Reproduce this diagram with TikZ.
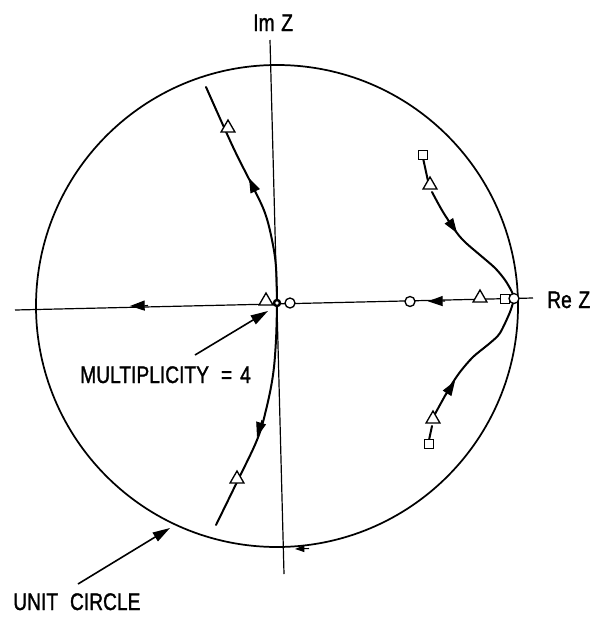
\documentclass[tikz,border=0pt]{standalone}
\usepackage{fontspec}
\setmainfont{Liberation Sans}[FakeStretch=0.8,FakeBold=1.3]
\usetikzlibrary{shapes.geometric,arrows.meta}
\begin{document}
\begin{tikzpicture}[x=0.75pt,y=-0.75pt,
  axisline/.style={line width=0.9pt},
  curve/.style={line width=1.5pt,line join=round,line cap=round},
  tri/.style={draw,fill=white,regular polygon,regular polygon sides=3,minimum size=12pt,inner sep=0pt,line width=1pt},
  sq/.style={draw,fill=white,rectangle,minimum size=6.5pt,inner sep=0pt,line width=1pt},
  oc/.style={draw,fill=white,circle,minimum size=7.5pt,inner sep=0pt,line width=1pt},
  dot/.style={draw,fill=white,circle,minimum size=4.5pt,inner sep=0pt,line width=1.8pt},
  head/.style={-{Triangle[length=11pt,width=7.5pt]},line width=0.8pt},
  smallhead/.style={-{Triangle[length=7pt,width=5pt]},line width=0.8pt},
  pointer/.style={-{Triangle[length=13pt,width=7.5pt]},line width=1.2pt},
  lbl/.style={inner sep=0pt,font=\fontsize{18}{20}\selectfont}]
\useasboundingbox (0,0) rectangle (597,618);
% unit circle
\draw[line width=1.3pt] (277,306) circle[radius=241];
% axes
\coordinate (reR) at (533,298);
\coordinate (reL) at (15,310);
\coordinate (imT) at (270,40);
\coordinate (imB) at (284,574);
\draw[axisline] (reR) -- (reL);
\draw[axisline] (imT) -- (imB);
% curves
\draw[curve] plot[smooth,tension=0.6] coordinates {(277,304) (276,267) (272,240) (265,213) (253,187) (233,147) (206,87)};
\draw[curve] plot[smooth,tension=0.6] coordinates {(277,304) (276,340) (273,375) (266,410) (257,440) (237,482) (216,525)};
\draw[curve] (423,158) -- (428,181);
\draw[curve] plot[smooth,tension=0.5] coordinates {(432,192) (443,212) (457,233) (466,243) (480,255) (495,268) (505,280) (512,292) (514,299)};
\draw[curve] (429,440) -- (432,426);
\draw[curve] plot[smooth,tension=0.5] coordinates {(435,414) (441,403) (450,387) (460,372) (473,357) (490,343) (500,333) (510,312) (514,299)};
% arrowheads on curves
\draw[head] (256,193) -- (249,178);
\draw[head] (262,420) -- (257,437);
\draw[head] (447,218) -- (457,233);
\draw[head] (446,395) -- (455,381);
\draw[head] (445,301) -- (428,301.3);
\draw[head] (148,305.5) -- (130,306);
\draw[smallhead] (309,548.5) -- (295,549);
% markers
\node[tri] (t1) at (266,301) {};
\node[dot] (d0) at (277,303) {};
\node[oc] (c1) at (290,303) {};
\node[oc] (c2) at (410,301.5) {};
\node[tri] (t2) at (480,298) {};
\node[sq] (s1) at (505,299) {};
\node[oc] (c3) at (514,298.5) {};
\node[tri] (t3) at (228,128) {};
\node[tri] (t4) at (237,479) {};
\node[sq] (s2) at (423,155) {};
\node[tri] (t5) at (430,185) {};
\node[tri] (t6) at (433,419) {};
\node[sq] (s3) at (429,444) {};
% labels
\node[lbl,anchor=base west] (imz) at (253,31) {Im\hspace{5pt}Z};
\node[lbl,anchor=base west] (rez) at (547,308) {Re\hspace{5pt}Z};
\node[lbl,anchor=base west] (mult) at (80,383) {MULTIPLICITY\hspace{9pt}=\hspace{6pt}4};
\node[lbl,anchor=base west] (unit) at (13,610) {UNIT\hspace{9pt}CIRCLE};
% pointers
\coordinate (mtail) at (195,355);
\coordinate (mtip) at (268,311);
\coordinate (utail) at (78,584);
\coordinate (utip) at (170,528);
\draw[pointer] (mtail) -- (mtip);
\draw[pointer] (utail) -- (utip);
\end{tikzpicture}
\end{document}
